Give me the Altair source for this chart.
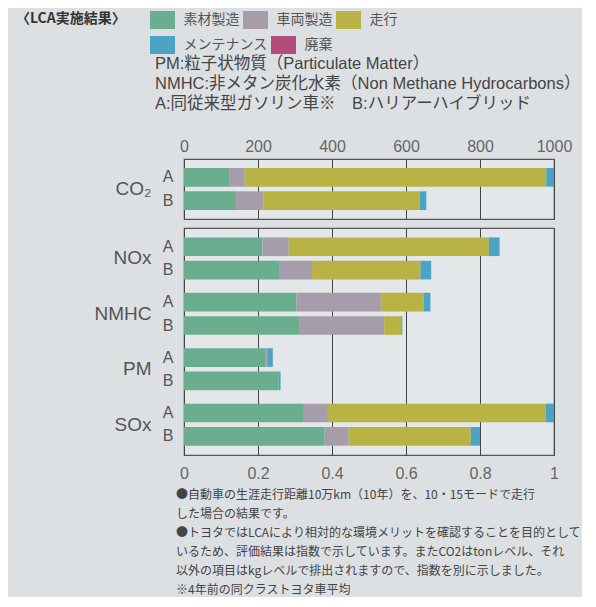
import altair as alt
import pandas as pd

# ---------------- data ----------------
stages = ["素材製造", "車両製造", "走行", "メンテナンス", "廃棄"]
stage_colors = ["#6aae8f", "#a59eaa", "#b9b346", "#4ba4c6", "#b14c7c"]
cars = ["A", "B"]

top_categories = ["CO₂"]
co2_A = [122, 42, 815, 21, 0]
co2_B = [141, 74, 422, 18, 0]

bottom_categories = ["NOx", "NMHC", "PM", "SOx"]
nox_A = [0.212, 0.071, 0.541, 0.029, 0]
nox_B = [0.259, 0.087, 0.293, 0.029, 0]
nmhc_A = [0.304, 0.228, 0.116, 0.018, 0]
nmhc_B = [0.313, 0.228, 0.046, 0.003, 0]
pm_A = [0.221, 0.004, 0.0, 0.015, 0]
pm_B = [0.256, 0.0, 0.0, 0.005, 0]
sox_A = [0.324, 0.065, 0.589, 0.022, 0]
sox_B = [0.380, 0.065, 0.330, 0.025, 0]

top_ticks = [0, 200, 400, 600, 800, 1000]
bottom_ticks = [0, 0.2, 0.4, 0.6, 0.8, 1]

title_text = "〈LCA実施結果〉"
info_lines = [
    "PM:粒子状物質（Particulate Matter）",
    "NMHC:非メタン炭化水素（Non Methane Hydrocarbons）",
    "A:同従来型ガソリン車※　B:ハリアーハイブリッド",
]
note_lines = [
    "●自動車の生涯走行距離10万km（10年）を、10・15モードで走行",
    "した場合の結果です。",
    "●トヨタではLCAにより相対的な環境メリットを確認することを目的として",
    "いるため、評価結果は指数で示しています。またCO2はtonレベル、それ",
    "以外の項目はkgレベルで排出されますので、指数を別に示しました。",
    "※4年前の同クラストヨタ車平均",
]

# ---------------- tables ----------------
def rows(cat, car, vals):
    return [{"cat": cat, "car": car, "stage": s, "idx": i, "value": v}
            for i, (s, v) in enumerate(zip(stages, vals))]

top_df = pd.DataFrame(rows("CO₂", "A", co2_A) + rows("CO₂", "B", co2_B))
bottom_df = pd.DataFrame(
    rows("NOx", "A", nox_A) + rows("NOx", "B", nox_B)
    + rows("NMHC", "A", nmhc_A) + rows("NMHC", "B", nmhc_B)
    + rows("PM", "A", pm_A) + rows("PM", "B", pm_B)
    + rows("SOx", "A", sox_A) + rows("SOx", "B", sox_B)
)
top_lab = pd.DataFrame([{"cat": c, "car": k} for c in top_categories for k in cars])
bottom_lab = pd.DataFrame([{"cat": c, "car": k} for c in bottom_categories for k in cars])
stage_df = pd.DataFrame({"stage": stages})

JP = "Noto Sans CJK JP"
MIX = "Liberation Sans, Noto Sans CJK JP"
LAT = "Liberation Sans"
GREY = "#555555"

yoff = alt.YOffset("car:N", sort=cars, scale=alt.Scale(paddingInner=0.2, paddingOuter=0))

y_axis = alt.Axis(title=None, ticks=False, domain=False, grid=False,
                  labelFontSize=19, labelFont=LAT, labelColor=GREY,
                  labelPadding=33, labelFontWeight="normal")

color_scale = alt.Scale(domain=stages, range=stage_colors)


def make_legend(vals, y):
    return alt.Legend(
        title=None, orient="none", legendX=-31.5, legendY=y, values=vals,
        direction="horizontal", columns=len(vals),
        symbolType="M-1.25,-0.9H1.25V0.9H-1.25Z", symbolSize=400,
        symbolStrokeWidth=0, symbolOpacity=1,
        labelFont=JP, labelFontSize=14, labelColor=GREY, labelOffset=11,
        columnPadding=3, labelLimit=200, padding=0,
    )


def text_layer(txt, x, y, size, weight="normal", font=MIX, color="#444444"):
    return alt.Chart(pd.DataFrame({"t": [txt]})).mark_text(
        align="left", baseline="middle", font=font, fontSize=size,
        fontWeight=weight, color=color
    ).encode(x=alt.value(x), y=alt.value(y), text="t:N")


# ---------------- top panel (CO2) ----------------
top_bars = alt.Chart(top_df).mark_bar().encode(
    x=alt.X("value:Q", stack="zero",
            scale=alt.Scale(domain=[0, 1000], nice=False),
            axis=alt.Axis(orient="top", values=top_ticks, format="d", title=None,
                          ticks=False, domain=False, grid=True, gridColor="#444444",
                          gridWidth=1, labelFontSize=16, labelFont=LAT, labelColor="#666666",
                          labelPadding=5, labelFlush=False)),
    y=alt.Y("cat:N", sort=top_categories,
            scale=alt.Scale(paddingInner=0, paddingOuter=0.214), axis=y_axis),
    yOffset=yoff,
    color=alt.Color("stage:N", scale=color_scale, legend=make_legend(stages[:3], -149)),
    order=alt.Order("idx:Q"),
)
legend_row2 = alt.Chart(stage_df).mark_point(opacity=0, filled=True).encode(
    x=alt.value(0), y=alt.value(0),
    fill=alt.Fill("stage:N", scale=color_scale, legend=make_legend(stages[3:], -124)),
)
top_ab = alt.Chart(top_lab).mark_text(
    align="center", baseline="middle", font=LAT, fontSize=16, color=GREY
).encode(
    x=alt.value(-16),
    y=alt.Y("cat:N", sort=top_categories),
    yOffset=alt.YOffset("car:N", sort=cars),
    text="car:N",
)
top_layers = [top_bars, legend_row2, top_ab,
              text_layer(title_text, -168, -140, 14, "bold", font=JP, color="#333333")]
for i, line in enumerate(info_lines):
    top_layers.append(text_layer(line, -29, -95 + 20 * i, 16.5))

top = alt.layer(*top_layers).properties(width=370, height=60)

# ---------------- bottom panel ----------------
bottom_bars = alt.Chart(bottom_df).mark_bar().encode(
    x=alt.X("value:Q", stack="zero",
            scale=alt.Scale(domain=[0, 1], nice=False),
            axis=alt.Axis(orient="bottom", values=bottom_ticks, format="~g", title=None,
                          ticks=False, domain=False, grid=True, gridColor="#444444",
                          gridWidth=1, labelFontSize=16, labelFont=LAT, labelColor="#666666",
                          labelPadding=10, labelFlush=False)),
    y=alt.Y("cat:N", sort=bottom_categories,
            scale=alt.Scale(paddingInner=0.243, paddingOuter=0.17), axis=y_axis),
    yOffset=yoff,
    color=alt.Color("stage:N", scale=color_scale, legend=None),
    order=alt.Order("idx:Q"),
)
bottom_ab = alt.Chart(bottom_lab).mark_text(
    align="center", baseline="middle", font=LAT, fontSize=16, color=GREY
).encode(
    x=alt.value(-16),
    y=alt.Y("cat:N", sort=bottom_categories),
    yOffset=alt.YOffset("car:N", sort=cars),
    text="car:N",
)
bottom_layers = [bottom_bars, bottom_ab]
for i, line in enumerate(note_lines):
    bottom_layers.append(text_layer(line, -8, 267 + 19 * i, 12, font=JP))

bottom = alt.layer(*bottom_layers).properties(width=370, height=227)

chart = alt.vconcat(top, bottom, spacing=7).resolve_scale(
    x="independent", y="independent", color="independent"
).resolve_legend(color="independent").properties(
    padding={"left": 7, "top": 1, "right": 0, "bottom": 0}
).configure(
    background="#dde0e3"
).configure_view(
    fill="#e4e7e9", stroke="#555555", strokeWidth=1.2
)

chart.save("out.html", embed_options={"renderer": "svg", "actions": False})
